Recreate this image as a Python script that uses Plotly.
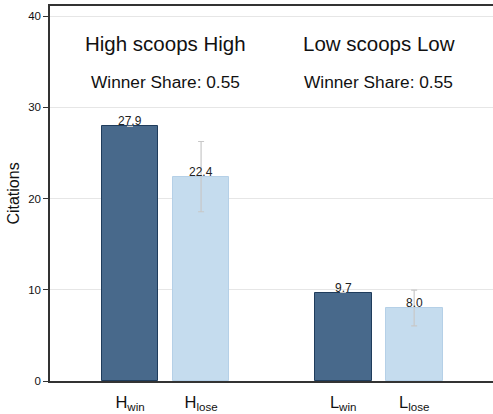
import plotly.graph_objects as go

categories = ["H<sub>win</sub>", "H<sub>lose</sub>", "L<sub>win</sub>", "L<sub>lose</sub>"]
positions = [0, 1, 3, 4]
values = [27.9, 22.4, 9.7, 8.0]
errors = [0, 3.85, 0, 1.95]
group_titles = ["High scoops High", "Low scoops Low"]
group_centers = [0.5, 3.5]
winner_share = ["Winner Share: 0.55", "Winner Share: 0.55"]

dark = "#48698b"
light = "#c5dcee"
colors = [dark, light, dark, light]
outlines = ["#1f3c5c", "#b5d0e7", "#1f3c5c", "#b5d0e7"]

fig = go.Figure()
fig.add_trace(go.Bar(
    x=positions, y=values, width=0.8,
    marker=dict(color=colors, line=dict(color=outlines, width=1)),
    error_y=dict(type="data", array=[e if e else None for e in errors],
                 visible=True, color="#c8c8c8", thickness=1.2, width=3),
    showlegend=False,
))

for xp, v in zip(positions, values):
    fig.add_annotation(x=xp, y=v, text=f"{v:.1f}", showarrow=False,
                       yanchor="bottom", yshift=-4,
                       font=dict(size=12, color="#222"))

for xc, t, s in zip(group_centers, group_titles, winner_share):
    fig.add_annotation(x=xc, y=37.0, text=t, showarrow=False,
                       font=dict(size=20.5, color="#111"))
    fig.add_annotation(x=xc, y=32.75, text=s, showarrow=False,
                       font=dict(size=17.3, color="#111"))

fig.update_layout(
    width=493, height=414,
    margin=dict(l=50, r=0, t=6, b=33, autoexpand=False),
    plot_bgcolor="white", paper_bgcolor="white",
    font=dict(family="Liberation Sans, Arial, sans-serif", color="#111"),
    bargap=0,
)
fig.update_xaxes(
    range=[-1.127, 5.11], tickvals=positions, ticktext=categories,
    showline=True, linecolor="#333", linewidth=1.5, mirror=True,
    ticks="", tickfont=dict(size=16.5), showgrid=False, zeroline=False,
    ticklabelstandoff=5,
)
fig.update_yaxes(
    range=[0, 41.1], tickvals=[0, 10, 20, 30, 40],
    showline=True, linecolor="#333", linewidth=1.5,
    ticks="outside", ticklen=5, tickcolor="#333", tickfont=dict(size=11.5),
    showgrid=True, gridcolor="#e6e6e6", gridwidth=1.2, zeroline=False,
    title=dict(text="Citations", font=dict(size=16), standoff=5),
)

fig.write_html("out.html", config={"displayModeBar": False},
               post_script="document.body.style.margin='0px';")
